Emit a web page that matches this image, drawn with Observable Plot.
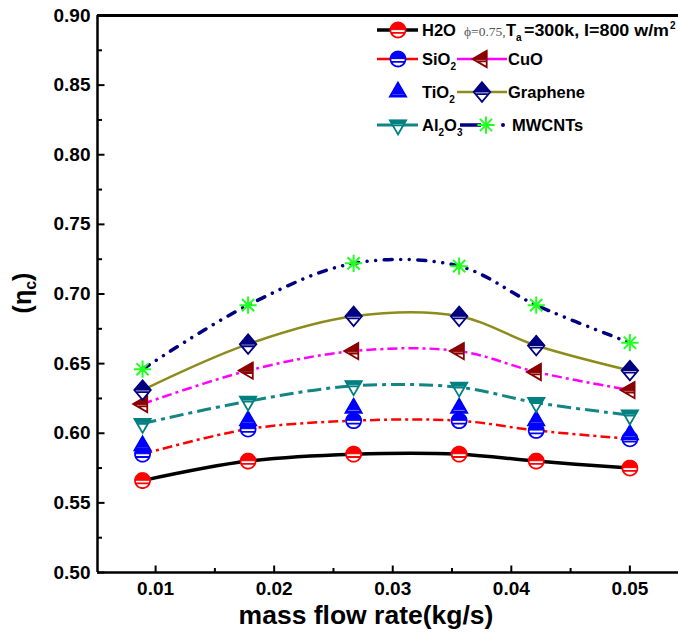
<!DOCTYPE html>
<html>
<head>
<meta charset="utf-8">
<script src="https://cdn.jsdelivr.net/npm/d3@7"></script>
<script src="https://cdn.jsdelivr.net/npm/@observablehq/plot@0.6"></script>
<style>
html, body { margin:0; padding:0; background:#fff; overflow:hidden; width:678px; height:640px; }
#chart svg { display:block; }
</style>
</head>
<body>
<div id="chart"></div>
<script>
// ---------------- data ----------------
const massFlow = [0.0089, 0.0178, 0.0267, 0.0356, 0.0421, 0.0500];
const h2o      = [0.566, 0.580, 0.585, 0.585, 0.580, 0.575];
const sio2     = [0.585, 0.603, 0.609, 0.609, 0.602, 0.596];
const tio2     = [0.591, 0.609, 0.618, 0.618, 0.609, 0.599];
const cuo      = [0.621, 0.645, 0.659, 0.659, 0.644, 0.631];
const graphene = [0.631, 0.664, 0.684, 0.684, 0.663, 0.645];
const al2o3    = [0.607, 0.623, 0.634, 0.633, 0.622, 0.613];
const mwcnts   = [0.646, 0.692, 0.722, 0.720, 0.692, 0.665];
const seriesNames = ["H2O", "SiO2", "TiO2", "CuO", "Graphene", "Al2O3", "MWCNTs"];
const yTickValues  = [0.50, 0.55, 0.60, 0.65, 0.70, 0.75, 0.80, 0.85, 0.90];
const yMinorValues = [0.525, 0.575, 0.625, 0.675, 0.725, 0.775, 0.825, 0.875];
const xTickValues  = [0.01, 0.02, 0.03, 0.04, 0.05];
const xMinorValues = [0.015, 0.025, 0.035, 0.045];
const xTitle = "mass flow rate(kg/s)";

// ---------------- styles ----------------
const FONT = "'Liberation Sans', Arial, Helvetica, sans-serif";
const XMIN = 0.0051, XMAX = 0.0541, YMIN = 0.5, YMAX = 0.9;
const styles = {
  H2O:      {values: h2o,      line: "#000000", width: 3.5, dash: null, marker: "circle",  color: "#ff0000", r: 7.5},
  SiO2:     {values: sio2,     line: "#ff0000", width: 2.5, dash: "10,4,3,4", marker: "circle", color: "#0000ff", r: 7.5},
  TiO2:     {values: tio2,     line: null, marker: "triUp", color: "#0000ff", r: 7.5},
  CuO:      {values: cuo,      line: "#ff00ff", width: 2.5, dash: "10,4,3,4", marker: "triLeft", color: "#8b0000", r: 7.5},
  Graphene: {values: graphene, line: "#8c8c1c", width: 2.5, dash: null, marker: "diamond", color: "#000080", r: 7.5},
  Al2O3:    {values: al2o3,    line: "#138585", width: 3, dash: "14,5,4,5", marker: "triDown", color: "#008080", r: 7.5},
  MWCNTs:   {values: mwcnts,   line: "#000080", width: 3.5, dash: "8,8.5,0.01,8.5,0.01,8.5", cap: "round", marker: "star", color: "#22ff22", r: 7.5}
};

// ---------------- marker geometry ----------------
function circleShape(r){ return d3.range(40).map(i => { const a = 2*Math.PI*i/40; return [r*Math.cos(a), r*Math.sin(a)]; }); }
function triUpShape(r){ const R = 1.25*r; return [[0,-R],[0.866*R,0.5*R],[-0.866*R,0.5*R]]; }
function triDownShape(r){ const R = 1.25*r; return [[0,R],[-0.866*R,-0.5*R],[0.866*R,-0.5*R]]; }
function triLeftShape(r){ const R = 1.25*r; return [[-R,0],[0.5*R,-0.866*R],[0.5*R,0.866*R]]; }
function diamondShape(r){ return [[0,-1.3*r],[1.1*r,0],[0,1.3*r],[-1.1*r,0]]; }
const markerDefs = {
  circle:  {shape: circleShape,  cut: -0.05, line: 0.38},
  triUp:   {shape: triUpShape,   cut: 0.2,   line: 0.42},
  triDown: {shape: triDownShape, cut: -0.15, line: 0.05},
  triLeft: {shape: triLeftShape, cut: 0.1,   line: 0.32},
  diamond: {shape: diamondShape, cut: 0.0,   line: 0.28}
};
function drawPoly(c, p){ c.moveTo(p[0][0], p[0][1]); for (let i = 1; i < p.length; i++) c.lineTo(p[i][0], p[i][1]); c.closePath(); }
function clipAbove(pts, cut){
  const out = [], n = pts.length;
  for (let i = 0; i < n; i++){
    const a = pts[i], b = pts[(i+1)%n];
    const ia = a[1] <= cut, ib = b[1] <= cut;
    if (ia) out.push(a);
    if (ia !== ib){ const t = (cut - a[1])/(b[1]-a[1]); out.push([a[0] + t*(b[0]-a[0]), cut]); }
  }
  return out;
}
function chordAt(pts, y){
  const xs = [], n = pts.length;
  for (let i = 0; i < n; i++){
    const a = pts[i], b = pts[(i+1)%n];
    if ((a[1]-y)*(b[1]-y) <= 0 && a[1] !== b[1]) xs.push(a[0] + (y-a[1])/(b[1]-a[1])*(b[0]-a[0]));
  }
  return [Math.min(...xs), Math.max(...xs)];
}
function outlineSymbol(def){ return {draw(c, size){
  const r = Math.sqrt(size/Math.PI), p = def.shape(r);
  drawPoly(c, p);
  if (def.line != null){ const y = def.line*r; const [a,b] = chordAt(p, y); c.moveTo(a+0.6, y); c.lineTo(b-0.6, y); }
}}; }
function topSymbol(def){ return {draw(c, size){
  const r = Math.sqrt(size/Math.PI);
  drawPoly(c, clipAbove(def.shape(r), def.cut*r));
}}; }
const starSymbol = {draw(c, size){
  const r = Math.sqrt(size/Math.PI)*1.15;
  for (const a of [0, 45, 90, 135]){ const t = a*Math.PI/180; c.moveTo(r*Math.cos(t), r*Math.sin(t)); c.lineTo(-r*Math.cos(t), -r*Math.sin(t)); }
}};
const tickRight = len => ({draw(c){ c.moveTo(0,0); c.lineTo(len,0); }});
const tickUp = len => ({draw(c){ c.moveTo(0,0); c.lineTo(0,-len); }});

// ---------------- marks ----------------
const marks = [];
for (const name of seriesNames){
  const s = styles[name];
  if (!s.line) continue;
  const rows = massFlow.map((x, i) => ({x, y: s.values[i]}));
  marks.push(Plot.line(rows, {x: "x", y: "y", curve: "catmull-rom", stroke: s.line, strokeWidth: s.width,
    strokeDasharray: s.dash || undefined, strokeLinecap: s.cap || "butt"}));
}
for (const name of seriesNames){
  const s = styles[name];
  const rows = massFlow.map((x, i) => ({x, y: s.values[i]}));
  if (s.marker === "star"){
    marks.push(Plot.dot(rows, {x: "x", y: "y", r: s.r, symbol: starSymbol, stroke: s.color, strokeWidth: 2, fill: "none"}));
  } else {
    const def = markerDefs[s.marker];
    marks.push(Plot.dot(rows, {x: "x", y: "y", r: s.r, symbol: outlineSymbol(def), fill: "white", stroke: s.color, strokeWidth: 1.8}));
    marks.push(Plot.dot(rows, {x: "x", y: "y", r: s.r, symbol: topSymbol(def), fill: s.color, stroke: s.color, strokeWidth: 1}));
  }
}
// frame (left, top, bottom; the right side is cut off in the reference)
marks.push(Plot.ruleY([YMIN], {stroke: "black", strokeWidth: 2.5}));
marks.push(Plot.ruleY([YMAX], {stroke: "black", strokeWidth: 3}));
marks.push(Plot.ruleX([XMIN], {stroke: "black", strokeWidth: 2.5}));
// inward ticks
marks.push(Plot.dot(yTickValues, {x: () => XMIN, y: d => d, symbol: tickRight(7), stroke: "black", strokeWidth: 2, fill: "none"}));
marks.push(Plot.dot(yMinorValues, {x: () => XMIN, y: d => d, symbol: tickRight(4.5), stroke: "black", strokeWidth: 2, fill: "none"}));
marks.push(Plot.dot(xTickValues, {x: d => d, y: () => YMIN, symbol: tickUp(7), stroke: "black", strokeWidth: 2, fill: "none"}));
marks.push(Plot.dot(xMinorValues, {x: d => d, y: () => YMIN, symbol: tickUp(4.5), stroke: "black", strokeWidth: 2, fill: "none"}));
// tick labels
marks.push(Plot.text(yTickValues, {x: () => XMIN, y: d => d, text: d => d.toFixed(2), textAnchor: "end", dx: -7,
  fontSize: 19, fontWeight: "bold", fill: "black"}));
marks.push(Plot.text(xTickValues, {x: d => d, y: () => YMIN, text: d => d.toFixed(2), dy: 16,
  fontSize: 19, fontWeight: "bold", fill: "black"}));
// x axis title
marks.push(Plot.text([xTitle], {frameAnchor: "bottom", text: d => d, dy: 51, dx: -22, fontSize: 26.5, fontWeight: "bold", fill: "black"}));

const chart = Plot.plot({
  width: 678, height: 640,
  marginLeft: 97, marginRight: 0, marginTop: 15, marginBottom: 68,
  x: {domain: [XMIN, XMAX], axis: null},
  y: {domain: [YMIN, YMAX], axis: null},
  style: {fontFamily: FONT, background: "#fff", color: "black"},
  marks
});
document.getElementById("chart").append(chart);

// ---------------- y axis title (with subscript) ----------------
const svg = d3.select(chart);
const yt = svg.append("text").attr("transform", "translate(31,293) rotate(-90)")
  .attr("text-anchor", "middle").attr("font-family", FONT).attr("font-weight", "bold").attr("font-size", 25).attr("fill", "black");
yt.append("tspan").text("(\u03b7");
yt.append("tspan").text("c").attr("font-size", 16).attr("dy", 5);
yt.append("tspan").text(")").attr("dy", -5);

// ---------------- legend ----------------
const lg = svg.append("g").attr("font-family", FONT).attr("font-weight", "bold").attr("font-size", 16.5)
  .attr("fill", "black").attr("text-anchor", "start");
function legendMarker(name, cx, cy){
  const s = styles[name];
  const size = s.r*s.r*Math.PI;
  if (s.marker === "star"){
    const p = d3.path(); starSymbol.draw(p, size);
    lg.append("path").attr("d", p.toString()).attr("transform", `translate(${cx},${cy})`).attr("stroke", s.color).attr("stroke-width", 2).attr("fill", "none");
    return;
  }
  const def = markerDefs[s.marker];
  const p1 = d3.path(); outlineSymbol(def).draw(p1, size);
  lg.append("path").attr("d", p1.toString()).attr("transform", `translate(${cx},${cy})`).attr("stroke", s.color).attr("stroke-width", 1.8).attr("fill", "white");
  const p2 = d3.path(); topSymbol(def).draw(p2, size);
  lg.append("path").attr("d", p2.toString()).attr("transform", `translate(${cx},${cy})`).attr("stroke", s.color).attr("stroke-width", 1).attr("fill", s.color);
}
function legendLine(name, x1, x2, y){
  const s = styles[name];
  lg.append("line").attr("x1", x1).attr("x2", x2).attr("y1", y).attr("y2", y).attr("stroke", s.line).attr("stroke-width", s.width);
}
function legendText(x, y, parts, textLength){
  const t = lg.append("text").attr("x", x).attr("y", y + 6).attr("text-anchor", "start");
  if (textLength) t.attr("textLength", textLength).attr("lengthAdjust", "spacingAndGlyphs");
  let shift = 0;
  for (const p of parts){
    const ts = t.append("tspan").text(p.t);
    const target = p.sub ? 5 : p.sup ? -7 : 0;
    if (target !== shift){ ts.attr("dy", target - shift); shift = target; }
    if (p.sub || p.sup) ts.attr("font-size", 10);
  }
  return t;
}
// row 1
legendLine("H2O", 377, 418, 30);
legendMarker("H2O", 398, 30);
legendText(422, 30, [{t: "H2O"}]);
lg.append("text").attr("x", 464).attr("y", 36).attr("font-family", "'Liberation Serif', 'Times New Roman', serif")
  .attr("font-weight", "normal").attr("font-size", 13.5).attr("fill", "#555").text("\u03d5=0.75,");
legendText(506, 30, [{t: "T"}, {t: "a", sub: true}]);
legendText(524, 30, [{t: "=300k, I=800 w/m"}], 145);
legendText(670, 30, [{t: "2", sup: true}]);
// row 2
legendLine("SiO2", 377, 418, 59);
legendMarker("SiO2", 398, 59);
legendText(422, 59, [{t: "SiO"}, {t: "2", sub: true}]);
legendLine("CuO", 457, 507, 59);
legendMarker("CuO", 482, 59);
legendText(508, 59, [{t: "CuO"}]);
// row 3
legendMarker("TiO2", 398, 92);
legendText(422, 92, [{t: "TiO"}, {t: "2", sub: true}]);
legendLine("Graphene", 457, 507, 92);
legendMarker("Graphene", 482, 92);
legendText(508, 92, [{t: "Graphene"}]);
// row 4
legendLine("Al2O3", 377, 418, 125);
legendMarker("Al2O3", 398, 125);
legendText(422, 125, [{t: "Al"}, {t: "2", sub: true}, {t: "O"}, {t: "3", sub: true}]);
legendLine("MWCNTs", 460, 481, 125);
legendMarker("MWCNTs", 486, 125);
lg.append("circle").attr("cx", 503).attr("cy", 125).attr("r", 2).attr("fill", styles.MWCNTs.line);
legendText(512, 125, [{t: "MWCNTs"}]);
</script>
</body>
</html>
